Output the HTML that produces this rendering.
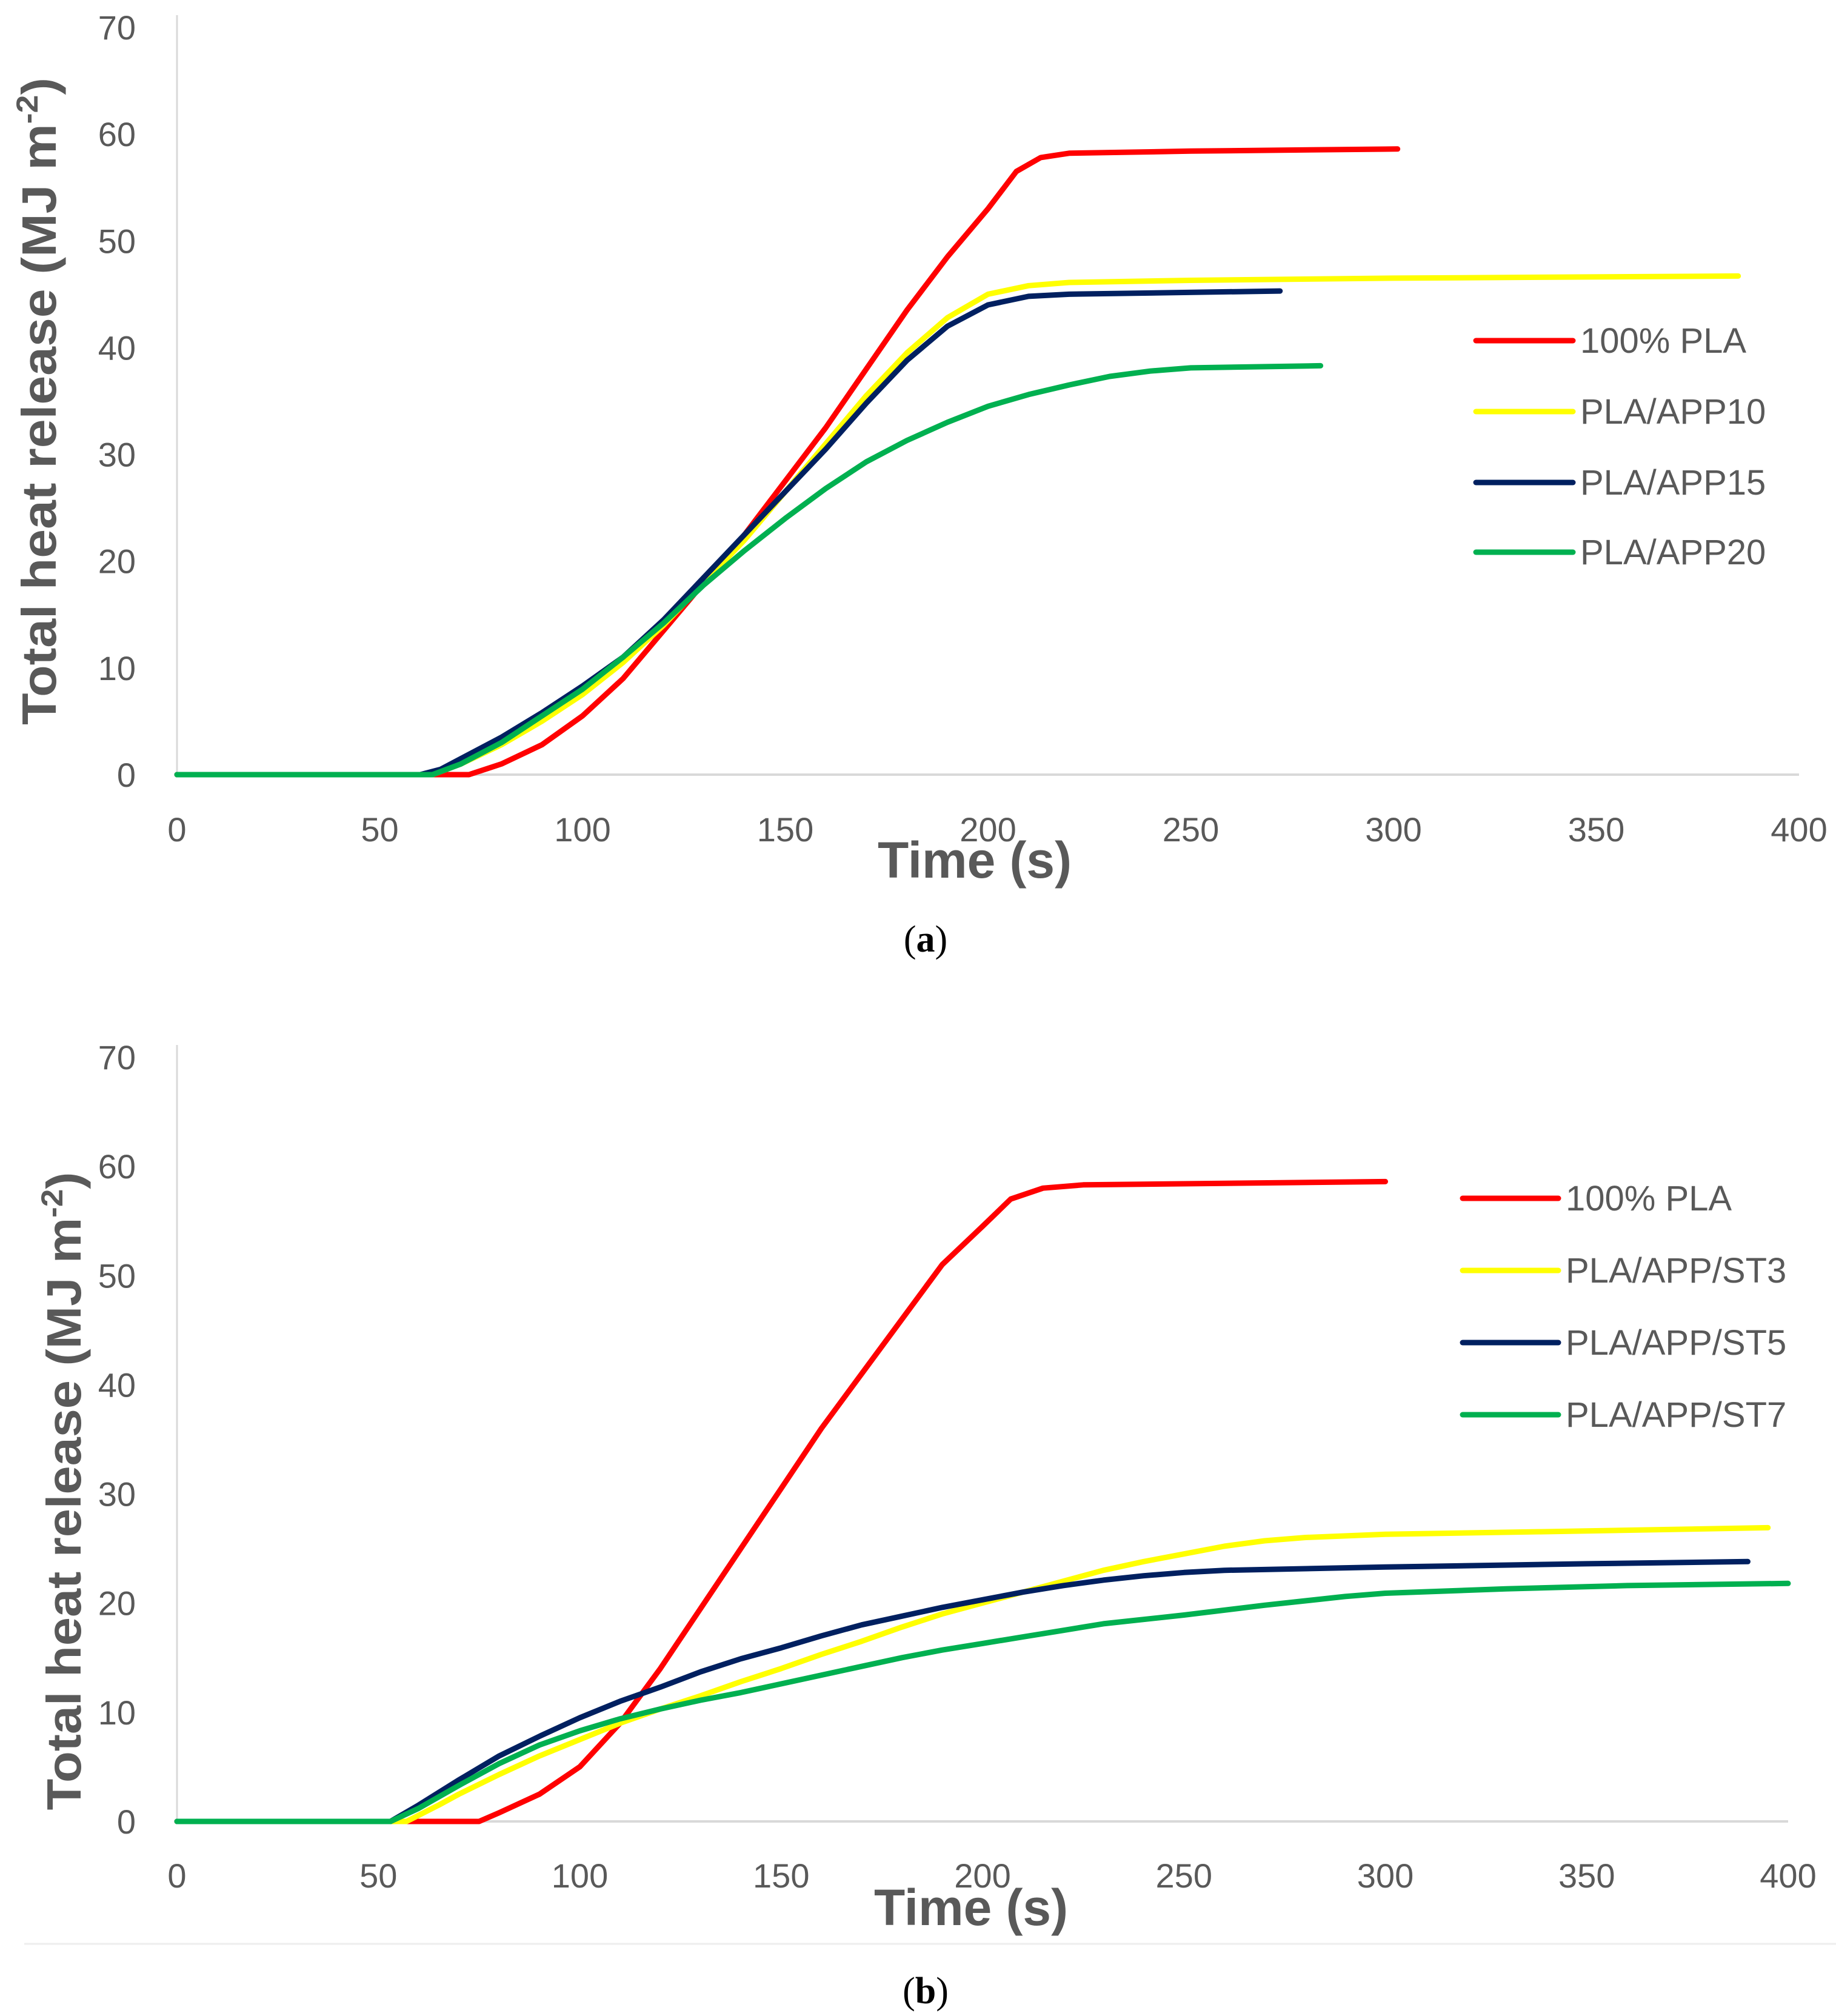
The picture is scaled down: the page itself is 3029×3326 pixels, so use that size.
<!DOCTYPE html>
<html><head><meta charset="utf-8"><style>
html,body{margin:0;padding:0;background:#fff;}
svg{display:block;}
text{font-family:"Liberation Sans",sans-serif;fill:#595959;}
</style></head><body>
<svg id="fig" width="3029" height="3326" viewBox="0 0 3029 3326" xmlns="http://www.w3.org/2000/svg">
<rect x="0" y="0" width="3029" height="3326" fill="#fff"/>
<line x1="40" y1="3207" x2="3029" y2="3207" stroke="#eeeeee" stroke-width="3"/>
</svg>
<script>
const xTicks = [0,50,100,150,200,250,300,350,400];
const yTicks = [0,10,20,30,40,50,60,70];
const seriesNamesA = ["100% PLA","PLA/APP10","PLA/APP15","PLA/APP20"];
const seriesNamesB = ["100% PLA","PLA/APP/ST3","PLA/APP/ST5","PLA/APP/ST7"];
const colors = ["#ff0000","#ffff00","#002060","#00b050"];

const a_pla = [[0,0],[60,0],[72,0],[80,1],[90,2.8],[100,5.5],[110,9],[120,13.5],[130,18],[140,22.5],[150,27.5],[160,32.5],[170,38],[180,43.5],[190,48.5],[200,53],[207,56.5],[213,57.8],[220,58.2],[250,58.4],[301,58.6]];
const a_app10 = [[0,0],[63,0],[70,1],[80,2.8],[90,5],[100,7.5],[110,10.5],[120,14],[130,18],[140,22],[150,26.5],[160,31],[170,35.5],[180,39.5],[190,42.8],[200,45],[210,45.8],[220,46.1],[250,46.3],[300,46.5],[385,46.7]];
const a_app15 = [[0,0],[60,0],[65,0.5],[70,1.5],[80,3.5],[90,5.8],[100,8.3],[110,11],[120,14.5],[130,18.5],[140,22.5],[150,26.5],[160,30.5],[170,34.8],[180,38.8],[190,42],[200,44],[210,44.8],[220,45],[272,45.3]];
const a_app20 = [[0,0],[63,0],[70,1],[80,3],[90,5.5],[100,8],[110,11],[120,14.2],[130,17.8],[140,21],[150,24],[160,26.8],[170,29.3],[180,31.3],[190,33],[200,34.5],[210,35.6],[220,36.5],[230,37.3],[240,37.8],[250,38.1],[282,38.3]];

const b_pla = [[0,0],[60,0],[75,0],[80,0.8],[90,2.5],[100,5],[110,9],[120,14],[130,19.5],[140,25],[150,30.5],[160,36],[170,41],[180,46],[190,51],[200,54.5],[207,57],[215,58],[225,58.3],[300,58.6]];
const b_st3 = [[0,0],[57,0],[65,1.5],[70,2.5],[80,4.3],[90,6],[100,7.5],[110,9],[120,10.3],[130,11.5],[140,12.8],[150,14],[160,15.3],[170,16.5],[180,17.8],[190,19],[200,20],[210,21],[220,22],[230,23],[240,23.8],[250,24.5],[260,25.2],[270,25.7],[280,26],[300,26.3],[350,26.6],[395,26.9]];
const b_st5 = [[0,0],[53,0],[60,1.5],[70,3.8],[80,6],[90,7.8],[100,9.5],[110,11],[120,12.3],[130,13.7],[140,14.9],[150,15.9],[160,17],[170,18],[180,18.8],[190,19.6],[200,20.3],[210,21],[220,21.6],[230,22.1],[240,22.5],[250,22.8],[260,23],[300,23.3],[350,23.6],[390,23.8]];
const b_st7 = [[0,0],[53,0],[60,1.2],[70,3.3],[80,5.3],[90,7],[100,8.3],[110,9.4],[120,10.3],[130,11.1],[140,11.8],[150,12.6],[160,13.4],[170,14.2],[180,15],[190,15.7],[200,16.3],[210,16.9],[220,17.5],[230,18.1],[250,18.9],[270,19.8],[290,20.6],[300,20.9],[330,21.3],[360,21.6],[400,21.8]];

const NS = "http://www.w3.org/2000/svg";
const svg = document.getElementById('fig');
function mk(tag, attrs, parent){const e=document.createElementNS(NS,tag);for(const k in attrs)e.setAttribute(k,attrs[k]);(parent||svg).appendChild(e);return e;}

function drawChart(cfg){
  const g = mk('g',{});
  
  
  const X = v => cfg.x0 + (v/400)*(cfg.x1-cfg.x0);
  const Y = v => cfg.y0 - (v/70)*(cfg.y0-cfg.y70);
  const ya = mk('line',{x1:cfg.x0,y1:Y(70)-20,x2:cfg.x0,y2:Y(0),stroke:'#d9d9d9','stroke-width':3},g);
  
  
  const xa = mk('line',{x1:cfg.x0,y1:Y(0),x2:X(400),y2:Y(0),stroke:'#d9d9d9','stroke-width':4},g);
  
  
  yTicks.forEach(t=>{
    const tx = mk('text',{x:224,y:Y(t)+20,'text-anchor':'end','font-size':56},g);
    tx.textContent = t;
    
    
  });
  xTicks.forEach(t=>{
    const tx = mk('text',{x:X(t),y:cfg.xLabelY,'text-anchor':'middle','font-size':56},g);
    tx.textContent = t;
    
    
  });
  const yt = mk('text',{x:0,y:0,'text-anchor':'middle','font-size':80,'font-weight':'bold',transform:`translate(${cfg.ytX},${cfg.ytY}) rotate(-90)`,textLength:cfg.ytLen,lengthAdjust:'spacingAndGlyphs'},g);
  yt.innerHTML = 'Total heat release (MJ m<tspan dy="-30" font-size="50">-2</tspan><tspan dy="30">)</tspan>';
  
  
  const xt = mk('text',{x:cfg.xtX,y:cfg.xtY,'text-anchor':'middle','font-size':84,'font-weight':'bold',textLength:320,lengthAdjust:'spacingAndGlyphs'},g);
  xt.textContent = 'Time (s)';
  
  
  cfg.series.forEach((s,i)=>{
    const d = s.map((p,j)=>(j?'L':'M')+X(p[0]).toFixed(1)+' '+Y(p[1]).toFixed(1)).join(' ');
    const p = mk('path',{d:d,fill:'none',stroke:colors[i],'stroke-width':9,'stroke-linejoin':'round','stroke-linecap':'round'},g);
    
    
    const ly = cfg.legY[i];
    const ll = mk('line',{x1:cfg.legX0,y1:ly,x2:cfg.legX1,y2:ly,stroke:colors[i],'stroke-width':9,'stroke-linecap':'round'},g);
    
    
    const lt = mk('text',{x:cfg.legX1+12,y:ly+20,'font-size':58},g);
    lt.textContent = cfg.names[i];
    
    
  });
  const cap = mk('text',{x:cfg.capX,y:cfg.capY,'text-anchor':'middle','font-size':62,style:'font-family:"Liberation Serif",serif;fill:#000'},g);
  cap.innerHTML = '(<tspan font-weight="bold">'+cfg.cap+'</tspan>)';
  
  
}

drawChart({name:'chart-a',x0:292,x1:2968,y0:1278,y70:45,xLabelY:1388,ytX:92,ytY:662,ytLen:1068,xtX:1608,xtY:1448,
  series:[a_pla,a_app10,a_app15,a_app20],names:seriesNamesA,legX0:2435,legX1:2595,legY:[562,679,796,911],capX:1527,capY:1570,cap:'a'});
drawChart({name:'chart-b',x0:292,x1:2950,y0:3005,y70:1744,xLabelY:3114,ytX:133,ytY:2460,ytLen:1053,xtX:1602,xtY:3176,
  series:[b_pla,b_st3,b_st5,b_st7],names:seriesNamesB,legX0:2413,legX1:2571,legY:[1977,2096,2215,2334],capX:1527,capY:3305,cap:'b'});
</script>
</body></html>
